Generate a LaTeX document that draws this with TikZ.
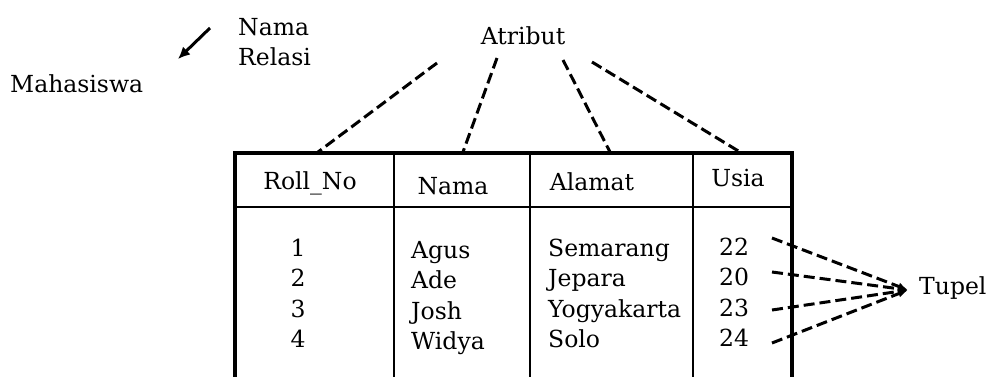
\documentclass[tikz,border=0pt]{standalone}
\usepackage{fontspec}
\setmainfont{DejaVu Serif}
\usetikzlibrary{arrows.meta}
\begin{document}
\begin{tikzpicture}[x=1pt,y=-1pt,
  lbl/.style={inner sep=0pt,font=\fontsize{23.5}{30}\selectfont},
  cell/.style={inner sep=0pt,align=left,font=\fontsize{23.5}{30.5}\selectfont},
  dashlink/.style={line width=3pt,dash pattern=on 11pt off 5pt},
  outer/.style={line width=3.4pt},
  inner/.style={line width=1.8pt}]
\useasboundingbox (0,0) rectangle (991,376);
\clip (0,0) rectangle (991,376);

% labels (multi-line nodes are placed by the baseline of their last line)
\node[lbl,anchor=west] (mhs) at (10,84) {Mahasiswa};
\node[lbl,anchor=base west,align=left] (nr) at (238,65.5) {Nama\\Relasi};
\node[lbl] (atr) at (523,36) {Atribut};
\node[lbl,anchor=west] (tpl) at (919,288) {Tupel};

% relation name arrow
\coordinate (nrs) at (210,28);
\coordinate (nre) at (178,59);
\draw[line width=3pt,-{Latex[length=12pt,width=11pt]}] (nrs) -- (nre);

% table frame and grid
\coordinate (tl) at (235,153);
\coordinate (tr) at (792,153);
\draw[outer] (235,390) -- (tl) -- (tr) -- (792,390);
\draw[inner] (235,207) -- (792,207);
\draw[inner] (394,153) -- (394,390);
\draw[inner] (530,153) -- (530,390);
\draw[inner] (693,153) -- (693,390);

% header cells
\node[lbl] (hroll) at (310,183) {Roll\_No};
\node[lbl] (hnama) at (453,186) {Nama};
\node[lbl] (halamat) at (592,182) {Alamat};
\node[lbl] (husia) at (738,178) {Usia};

% data cells
\node[cell,align=center,anchor=base] (croll) at (298,347.5) {1\\2\\3\\4};
\node[cell,anchor=base west] (cnama) at (411,349.5) {Agus\\Ade\\Josh\\Widya};
\node[cell,anchor=base west] (calamat) at (548,347.5) {Semarang\\Jepara\\Yogyakarta\\Solo};
\node[cell,align=center,anchor=base] (cusia) at (734,346.5) {22\\20\\23\\24};

% attribute links
\coordinate (a1) at (437,63);
\coordinate (a2) at (497,58);
\coordinate (a3) at (563,60);
\coordinate (a4) at (592,62);
\coordinate (b1) at (318,152);
\coordinate (b2) at (463,152);
\coordinate (b3) at (610,152);
\coordinate (b4) at (740,152);
\draw[dashlink] (a1) -- (b1);
\draw[dashlink] (a2) -- (b2);
\draw[dashlink] (a3) -- (b3);
\draw[dashlink] (a4) -- (b4);

% tuple links
\coordinate (t1) at (772,238);
\coordinate (t2) at (772,272);
\coordinate (t3) at (772,310);
\coordinate (t4) at (772,343);
\coordinate (tip) at (908,290);
\foreach \s in {t1,t2,t3,t4}
  \draw[dashlink,-{Latex[length=10pt,width=8pt]}] (\s) -- (tip);
\end{tikzpicture}
\end{document}
